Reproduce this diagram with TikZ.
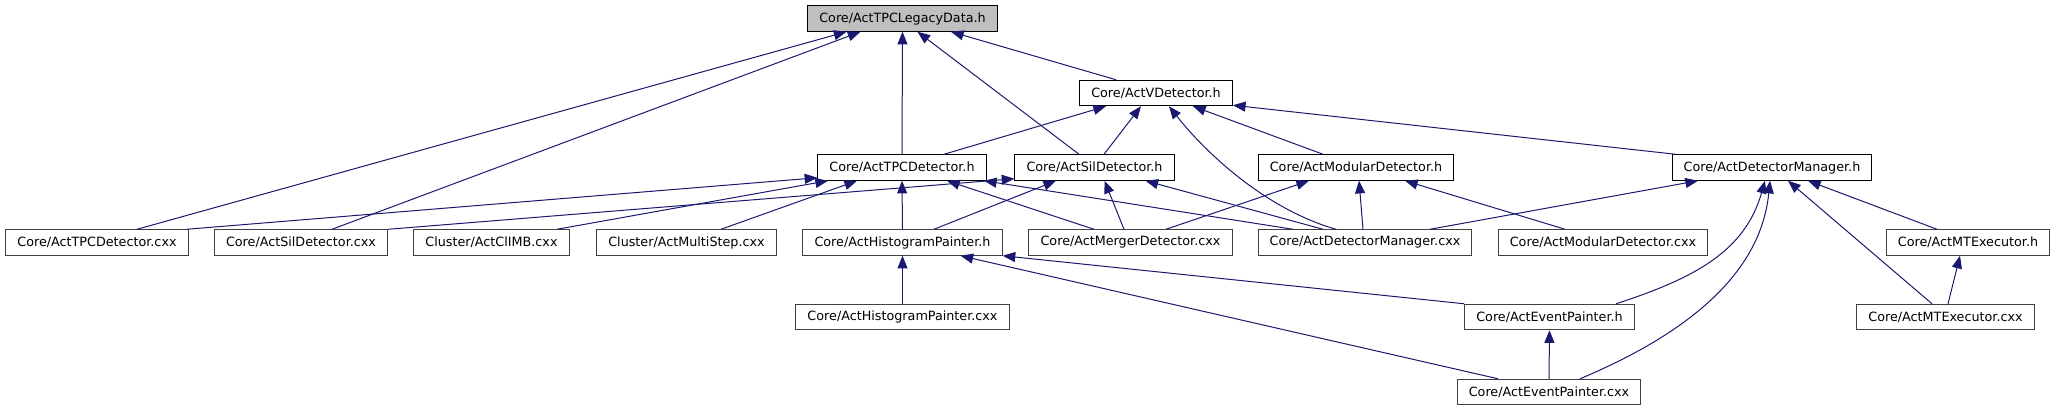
\documentclass[tikz,border=0pt]{standalone}
\usepackage{fontspec}
\setsansfont{DejaVu Sans}
\usetikzlibrary{arrows.meta, positioning, calc}
\definecolor{dxedge}{HTML}{191970}
\definecolor{dxroot}{HTML}{BFBFBF}
\definecolor{dxgray}{HTML}{404040}

\begin{document}
\begin{tikzpicture}[
  x=0.75pt, y=-0.75pt,
  every node/.style={font=\sffamily\fontsize{9.56}{11}\selectfont},
  filebox/.style={rectangle, draw=#1, fill=white, line width=0.75pt, minimum height=19.1pt, inner xsep=8.7pt, inner ysep=0pt},
  filebox/.default=black,
  rootbox/.style={filebox, fill=dxroot},
  incl/.style={-{Triangle[length=9.5pt, width=7.5pt]}, dxedge, line width=0.75pt},
]
\useasboundingbox (0,0) rectangle (2055,411);

% headers
\node[rootbox] (root) at (902.5, 18.5) {Core/ActTPCLegacyData.h};
\node[filebox] (vdet) at (1156, 93) {Core/ActVDetector.h};
\node[filebox] (tpch) at (902, 167.5) {Core/ActTPCDetector.h};
\node[filebox] (silh) at (1094.5, 167.5) {Core/ActSilDetector.h};
\node[filebox] (modh) at (1356, 167.5) {Core/ActModularDetector.h};
\node[filebox] (mgrh) at (1772, 167.5) {Core/ActDetectorManager.h};

% row of sources
\node[filebox=dxgray] (tpccxx) at (97, 242.5) {Core/ActTPCDetector.cxx};
\node[filebox=dxgray] (silcxx) at (301, 242.5) {Core/ActSilDetector.cxx};
\node[filebox=dxgray] (climb) at (491.5, 242.5) {Cluster/ActClIMB.cxx};
\node[filebox=dxgray] (multistep) at (686.5, 242.5) {Cluster/ActMultiStep.cxx};
\node[filebox=dxgray] (histh) at (902.5, 242.5) {Core/ActHistogramPainter.h};
\node[filebox=dxgray] (mergercxx) at (1130.5, 242.5) {Core/ActMergerDetector.cxx};
\node[filebox=dxgray] (mgrcxx) at (1365, 242.5) {Core/ActDetectorManager.cxx};
\node[filebox=dxgray] (modcxx) at (1603, 242.5) {Core/ActModularDetector.cxx};
\node[filebox=dxgray] (mth) at (1968, 242.5) {Core/ActMTExecutor.h};

% painters and executor
\node[filebox=dxgray] (histcxx) at (902.5, 317) {Core/ActHistogramPainter.cxx};
\node[filebox=dxgray] (evth) at (1549.5, 317) {Core/ActEventPainter.h};
\node[filebox=dxgray] (mtcxx) at (1945.5, 317) {Core/ActMTExecutor.cxx};
\node[filebox=dxgray] (evtcxx) at (1549, 392) {Core/ActEventPainter.cxx};

% into the legacy data header
\draw[incl] ($(vdet.north)+(-40,0)$) -- ($(root.south)+(48.5,0)$);
\draw[incl] (tpch.north) -- (root.south);
\draw[incl] ($(silh.north)+(-15.5,0)$) -- ($(root.south)+(15,0)$);
\draw[incl] ($(tpccxx.north)+(40,0)$) -- ($(root.south)+(-56,0)$);
\draw[incl] ($(silcxx.north)+(31,0)$) -- ($(root.south)+(-42,0)$);

% into ActVDetector.h
\draw[incl] ($(tpch.north)+(42,0)$) -- ($(vdet.south)+(-50,0)$);
\draw[incl] ($(silh.north)+(9.5,0)$) -- ($(vdet.south)+(-15,0)$);
\draw[incl] ($(modh.north)+(-33,0)$) -- ($(vdet.south)+(37,0)$);
\draw[incl] ($(mgrh.north west)+(4,0)$) -- ($(vdet.south east)+(0,-1)$);
\draw[incl] ($(mgrcxx.north)+(-29,0)$) .. controls +(-70,-20) and +(37,47) .. ($(vdet.south)+(13,0)$);

% into ActTPCDetector.h
\draw[incl] ($(tpccxx.north east)+(-2,0)$) -- ($(tpch.south west)+(0,-3)$);
\draw[incl] ($(climb.north)+(65.5,0)$) -- ($(tpch.south)+(-74,0)$);
\draw[incl] ($(multistep.north)+(34.5,0)$) -- ($(tpch.south)+(-45,0)$);
\draw[incl] (histh.north) -- (tpch.south);
\draw[incl] ($(mergercxx.north)+(-36.5,0)$) -- ($(tpch.south)+(45,0)$);
\draw[incl] ($(mgrcxx.north)+(-72,0)$) -- ($(tpch.south)+(82,0)$);

% into ActSilDetector.h
\draw[incl] (silcxx.north east) -- ($(silh.south west)+(0,-2)$);
\draw[incl] ($(histh.north)+(31.5,0)$) -- ($(silh.south)+(-38.5,0)$);
\draw[incl] ($(mergercxx.north)+(-6.5,0)$) -- ($(silh.south)+(10,0)$);
\draw[incl] ($(mgrcxx.north)+(-42,0)$) -- ($(silh.south)+(51,0)$);

% into ActModularDetector.h
\draw[incl] ($(mergercxx.north)+(35.5,0)$) -- ($(modh.south)+(-47,0)$);
\draw[incl] ($(mgrcxx.north)+(-2,0)$) -- ($(modh.south)+(3,0)$);
\draw[incl] ($(modcxx.north)+(-38,0)$) -- ($(modh.south)+(49,0)$);

% into ActDetectorManager.h
\draw[incl] ($(mgrcxx.north)+(65,0)$) -- ($(mgrh.south)+(-74,0)$);
\draw[incl] ($(evth.north)+(66.5,0)$) .. controls +(80,-26) and +(-20,70) .. ($(mgrh.south)+(-7,0)$);
\draw[incl] ($(evtcxx.north)+(31,0)$) .. controls +(95,-40) and +(-10,100) .. ($(mgrh.south)+(-2,0)$);
\draw[incl] ($(mth.north)+(-31,0)$) -- ($(mgrh.south)+(36,0)$);
\draw[incl] ($(mtcxx.north)+(-13.5,0)$) -- ($(mgrh.south)+(16,0)$);

% painters
\draw[incl] (histcxx.north) -- (histh.south);
\draw[incl] (evth.north west) -- (histh.south east);
\draw[incl] ($(evtcxx.north)+(-51,0)$) -- ($(histh.south)+(58,0)$);
\draw[incl] (evtcxx.north) -- (evth.south);

% executor
\draw[incl] ($(mtcxx.north)+(2.5,0)$) -- ($(mth.south)+(-8,0)$);

\end{tikzpicture}
\end{document}
